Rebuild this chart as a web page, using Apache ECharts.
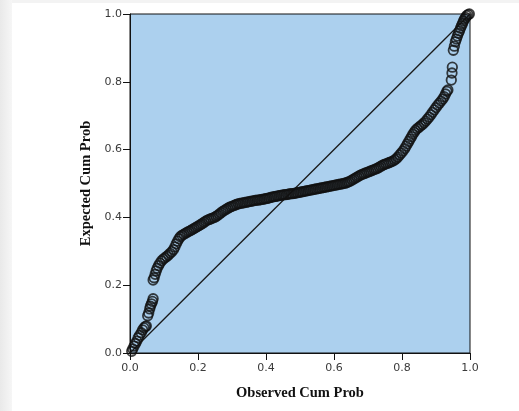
<!DOCTYPE html>
<html>
<head>
<meta charset="utf-8">
<script src="https://cdn.jsdelivr.net/npm/echarts@6/dist/echarts.min.js"></script>
<style>
  html, body { margin: 0; padding: 0; width: 519px; height: 411px; overflow: hidden; }
  body { background: linear-gradient(to right, #e9e9e9 0px, #f6f6f6 12px, #f3f3f3 12px); }
  #chart { position: absolute; left: 12px; top: 3px; width: 507px; height: 408px; background: #ffffff; }
</style>
</head>
<body>
<div id="chart"></div>
<script>
// Observed cumulative probability (x) and expected cumulative probability (y)
const observedCumProb = [
  0.005,0.008,0.012,0.016,0.020,0.024,0.028,0.033,0.037,0.041,0.045,0.048,
  0.052,0.055,0.058,0.060,0.063,0.066,0.068,
  0.068,0.071,0.074,0.077,0.080,0.084,0.088,0.093,0.098,0.103,0.108,0.113,0.118,0.123,0.128,0.132,0.136,0.140,0.144,0.148,
  0.153,0.158,0.163,0.168,0.173,0.178,0.183,0.188,0.193,0.198,0.203,0.208,0.213,0.218,0.223,0.228,0.233,0.238,0.243,0.248,
  0.253,0.258,0.263,0.268,0.273,0.278,0.283,0.288,0.293,0.298,0.303,0.308,0.313,0.318,0.323,0.328,0.333,0.338,0.343,0.348,
  0.353,0.358,0.363,0.368,0.373,0.378,0.383,0.388,0.393,0.398,0.403,0.408,0.413,0.418,0.423,0.428,0.433,0.438,0.443,0.448,
  0.453,0.458,0.463,0.468,0.473,0.478,0.483,0.488,0.493,0.498,0.503,0.508,0.513,0.518,0.523,0.528,0.533,0.538,0.543,0.548,
  0.553,0.558,0.563,0.568,0.573,0.578,0.583,0.588,0.593,0.598,0.603,0.608,0.613,0.618,0.623,0.628,0.633,0.638,0.643,0.648,
  0.653,0.658,0.663,0.668,0.673,0.678,0.683,0.688,0.693,0.698,0.703,0.708,0.713,0.718,0.723,0.728,0.733,0.738,0.743,0.748,
  0.753,0.758,0.763,0.768,0.773,0.778,0.783,0.788,0.793,0.798,0.803,0.808,0.812,0.816,0.820,0.824,0.828,0.832,0.836,0.840,
  0.845,0.850,0.855,0.860,0.865,0.870,0.875,0.880,0.885,0.890,0.895,0.900,0.905,0.910,0.915,0.920,0.924,0.928,0.932,0.935,
  0.945,0.947,0.948,0.951,0.954,0.957,0.960,0.963,0.966,0.969,0.972,0.975,0.978,0.981,0.984,0.987,0.990,0.994,0.998
];
const expectedCumProb = [
  0.005,0.012,0.020,0.028,0.035,0.045,0.052,0.060,0.068,0.074,0.078,0.080,
  0.110,0.118,0.130,0.138,0.145,0.152,0.160,
  0.215,0.222,0.232,0.242,0.250,0.258,0.265,0.272,0.277,0.281,0.285,0.289,0.294,0.299,0.305,0.313,0.322,0.330,0.337,0.343,
  0.347,0.350,0.353,0.356,0.359,0.361,0.364,0.367,0.370,0.373,0.376,0.379,0.382,0.386,0.389,0.392,0.394,0.396,0.398,0.400,
  0.403,0.406,0.410,0.414,0.418,0.421,0.424,0.427,0.430,0.432,0.434,0.436,0.438,0.440,0.441,0.442,0.443,0.444,0.445,0.446,
  0.447,0.448,0.449,0.450,0.451,0.451,0.452,0.453,0.454,0.455,0.456,0.457,0.459,0.460,0.461,0.462,0.463,0.464,0.465,0.466,
  0.467,0.467,0.468,0.469,0.470,0.470,0.471,0.472,0.473,0.474,0.475,0.476,0.477,0.478,0.479,0.480,0.481,0.482,0.483,0.484,
  0.485,0.486,0.487,0.488,0.489,0.490,0.491,0.492,0.493,0.494,0.495,0.496,0.497,0.498,0.499,0.500,0.501,0.503,0.505,0.507,
  0.510,0.513,0.516,0.519,0.522,0.525,0.527,0.529,0.531,0.533,0.535,0.537,0.539,0.541,0.543,0.545,0.548,0.551,0.554,0.556,
  0.558,0.560,0.562,0.564,0.566,0.569,0.573,0.578,0.584,0.590,0.596,0.603,0.610,0.617,0.624,0.631,0.638,0.645,0.651,0.657,
  0.662,0.666,0.670,0.674,0.679,0.684,0.690,0.696,0.703,0.710,0.717,0.724,0.731,0.737,0.743,0.749,0.756,0.764,0.772,0.776,
  0.805,0.826,0.843,0.893,0.905,0.918,0.926,0.935,0.943,0.950,0.958,0.965,0.972,0.979,0.985,0.990,0.995,0.998,1.000
];
const referenceLineX = [0, 1];
const referenceLineY = [0, 1];

const points = observedCumProb.map((x, i) => [x, expectedCumProb[i]]);
const diag = referenceLineX.map((x, i) => [x, referenceLineY[i]]);

const chart = echarts.init(document.getElementById('chart'), null, { renderer: 'canvas' });
const labelStyle = { color: '#3a3a3a', fontFamily: 'DejaVu Sans', fontSize: 11 };
const nameStyle = { color: '#111', fontFamily: 'Liberation Serif', fontWeight: 'bold', fontSize: 14.5 };
chart.setOption({
  animation: false,
  grid: {
    left: 118, right: 49, top: 11, bottom: 58,
    show: true, backgroundColor: '#acd0ee', borderColor: '#111', borderWidth: 1
  },
  xAxis: {
    type: 'value', min: 0, max: 1, interval: 0.2,
    name: 'Observed Cum Prob', nameLocation: 'middle', nameGap: 33,
    nameTextStyle: nameStyle,
    axisLine: { show: true, onZero: false, lineStyle: { color: '#111', width: 1 } },
    axisTick: { show: true, length: 7, lineStyle: { color: '#111' } },
    axisLabel: Object.assign({ margin: 10, formatter: v => v.toFixed(1) }, labelStyle),
    splitLine: { show: false }
  },
  yAxis: {
    type: 'value', min: 0, max: 1, interval: 0.2,
    name: 'Expected Cum Prob', nameLocation: 'middle', nameGap: 35,
    nameTextStyle: nameStyle,
    axisLine: { show: true, onZero: false, lineStyle: { color: '#111', width: 1 } },
    axisTick: { show: true, length: 7, lineStyle: { color: '#111' } },
    axisLabel: Object.assign({ margin: 8, formatter: v => v.toFixed(1) }, labelStyle),
    splitLine: { show: false }
  },
  series: [
    {
      type: 'line', data: diag, symbol: 'none', silent: true,
      lineStyle: { color: '#1a1a1a', width: 1.3 }, z: 1
    },
    {
      type: 'scatter', data: points, symbol: 'circle', symbolSize: 9.5,
      itemStyle: { color: 'rgba(0,0,0,0)', borderColor: '#111', borderWidth: 1.8 },
      z: 2
    }
  ]
});
</script>
</body>
</html>
